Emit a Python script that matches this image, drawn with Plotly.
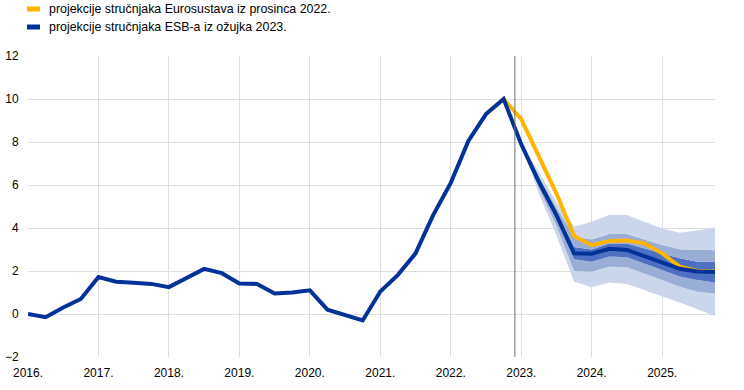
import plotly.graph_objects as go

# ---------------- data ----------------
start_year = 2016
blue_vals = [0.0, -0.15, 0.3, 0.7, 1.72, 1.5, 1.45, 1.4, 1.25, 1.7,
             2.1, 1.9, 1.42, 1.4, 0.95, 1.0, 1.1, 0.2, -0.05, -0.3,
             1.05, 1.82, 2.82, 4.6, 6.1, 8.05, 9.3, 10.0, 7.9, 6.15,
             4.6, 2.82, 2.8, 3.03, 2.98, 2.68, 2.38, 2.1, 1.98, 1.95]
yellow_start = 26
yellow_vals = [9.3, 10.0, 9.06, 7.35, 5.6, 3.63, 3.2, 3.4, 3.42, 3.28,
               2.82, 2.2, 2.0, 1.98]
band_start = 28
outer_lo = [7.9, 5.6, 3.65, 1.5, 1.24, 1.46, 1.4, 1.12, 0.84, 0.53, 0.22, -0.09]
outer_hi = [7.9, 6.6, 5.2, 4.06, 4.29, 4.6, 4.6, 4.29, 3.98, 3.78, 3.88, 4.02]
mid_lo = [7.9, 5.85, 4.1, 2.0, 1.97, 2.2, 2.17, 1.89, 1.58, 1.27, 1.04, 0.95]
mid_hi = [7.9, 6.4, 4.95, 3.6, 3.47, 3.72, 3.72, 3.47, 3.21, 3.01, 2.98, 2.96]
in_lo = [7.9, 6.0, 4.4, 2.55, 2.43, 2.67, 2.64, 2.36, 2.05, 1.74, 1.58, 1.46]
in_hi = [7.9, 6.25, 4.75, 3.12, 3.0, 3.28, 3.28, 3.05, 2.82, 2.59, 2.43, 2.43]
cutoff = 2022.91
year_ticks = list(range(2016, 2026))
year_labels = [f"{y}." for y in year_ticks]
legend_labels = ["projekcije stručnjaka Eurosustava iz prosinca 2022.",
                 "projekcije stručnjaka ESB-a iz ožujka 2023."]

# ---------------- styling ----------------
BLUE = "#003299"
YELLOW = "#ffb400"
LIGHT = "#ccd6eb"
MED = "#99add6"
DARK = "#4d70c2"
GRID = "#dedede"
FONT = "Liberation Sans, Arial, sans-serif"

def qx(i):
    return start_year + i / 4.0

x_all = [qx(i) for i in range(len(blue_vals))]
x_yel = [qx(yellow_start + i) for i in range(len(yellow_vals))]
x_band = [qx(band_start + i) for i in range(len(outer_lo))]

fig = go.Figure()

band_seq = [
    (outer_lo, None, None),
    (mid_lo, "tonexty", LIGHT),
    (in_lo, "tonexty", MED),
    (in_hi, "tonexty", DARK),
    (mid_hi, "tonexty", MED),
    (outer_hi, "tonexty", LIGHT),
]
for vals, fill, col in band_seq:
    kw = dict(x=x_band, y=vals, mode="lines", line=dict(width=0, color=col or LIGHT),
              showlegend=False, hoverinfo="skip")
    if fill:
        kw["fill"] = fill
        kw["fillcolor"] = col
    fig.add_trace(go.Scatter(**kw))

fig.add_trace(go.Scatter(x=x_yel, y=yellow_vals, mode="lines",
                         line=dict(color=YELLOW, width=4), name=legend_labels[0],
                         showlegend=False))
fig.add_trace(go.Scatter(x=x_all, y=blue_vals, mode="lines",
                         line=dict(color=BLUE, width=4), name=legend_labels[1],
                         showlegend=False))

fig.add_shape(type="line", x0=cutoff, x1=cutoff, y0=0, y1=1, xref="x", yref="paper",
              line=dict(color="#707070", width=1))

# manual legend
for k, (lab, col) in enumerate(zip(legend_labels, [YELLOW, BLUE])):
    ypix = 9 + 18 * k
    fig.add_shape(type="rect", xref="paper", yref="paper",
                  x0=(27 - 28) / 687, x1=(40 - 28) / 687,
                  y0=1 + (56 - ypix - 2.5) / 301, y1=1 + (56 - ypix + 2.5) / 301,
                  fillcolor=col, line=dict(width=0))
    fig.add_annotation(text=lab, xref="paper", yref="paper",
                       x=(47 - 28) / 687, y=1 + (56 - ypix) / 301,
                       xanchor="left", yanchor="middle", showarrow=False,
                       font=dict(family=FONT, size=12.4, color="#000000"))

fig.update_layout(
    width=744, height=390,
    margin=dict(l=28, r=29, t=56, b=33),
    paper_bgcolor="white", plot_bgcolor="white",
    font=dict(family=FONT, size=12, color="#000000"),
    showlegend=False,
    xaxis=dict(range=[2016, 2025.75], tickvals=year_ticks, ticktext=year_labels,
               showgrid=True, gridcolor=GRID, gridwidth=1, zeroline=False,
               showline=False, ticks="", ticklabelstandoff=7,
               tickfont=dict(size=12), automargin=False),
    yaxis=dict(range=[-2, 12], dtick=2, showgrid=True, gridcolor=GRID, gridwidth=1,
               zeroline=False, showline=False, ticks="outside", ticklen=6,
               tickcolor="white", tickfont=dict(size=12), automargin=False),
)

fig.write_html("out.html", config={"displayModeBar": False},
               post_script="document.body.style.margin='0';")
